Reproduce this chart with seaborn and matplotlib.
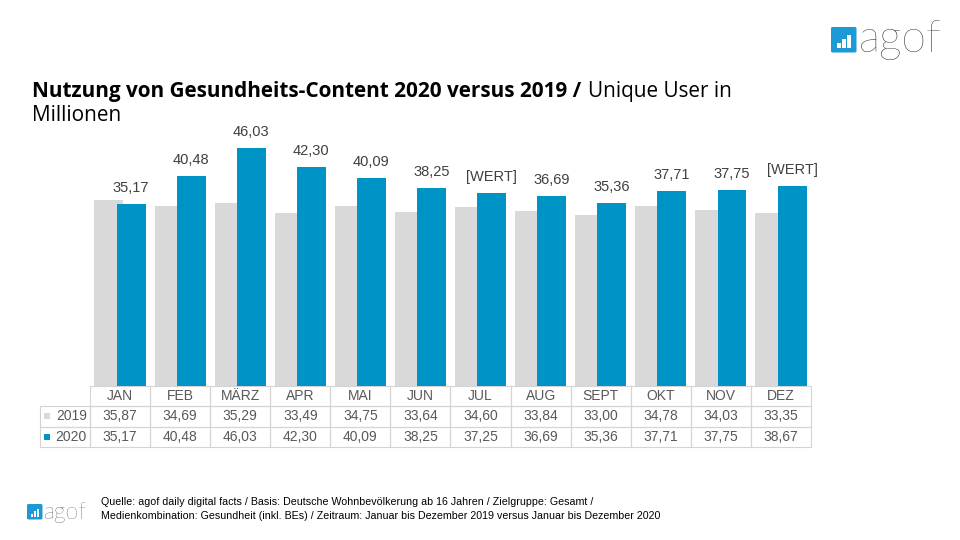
import matplotlib
matplotlib.use("Agg")
import matplotlib.pyplot as plt
from matplotlib.patches import Rectangle, FancyBboxPatch
from matplotlib.table import Table
from matplotlib import font_manager
import seaborn as sns
import pandas as pd

# ---------------- data ----------------
months = ["JAN", "FEB", "MÄRZ", "APR", "MAI", "JUN", "JUL", "AUG", "SEPT", "OKT", "NOV", "DEZ"]
values_2019 = [35.87, 34.69, 35.29, 33.49, 34.75, 33.64, 34.60, 33.84, 33.00, 34.78, 34.03, 33.35]
values_2020 = [35.17, 40.48, 46.03, 42.30, 40.09, 38.25, 37.25, 36.69, 35.36, 37.71, 37.75, 38.67]
years = ["2019", "2020"]
bar_labels_2020 = ["35,17", "40,48", "46,03", "42,30", "40,09", "38,25", "[WERT]",
                   "36,69", "35,36", "37,71", "37,75", "[WERT]"]

title_bold = "Nutzung von Gesundheits-Content 2020 versus 2019 /"
title_regular = "Unique User in"
title_line2 = "Millionen"
footer_lines = [
    "Quelle: agof daily digital facts / Basis: Deutsche Wohnbevölkerung ab 16 Jahren / Zielgruppe: Gesamt /",
    "Medienkombination: Gesundheit (inkl. BEs) / Zeitraum: Januar bis Dezember 2019 versus Januar bis Dezember 2020",
]

GRAY = "#d9d9d9"
BLUE = "#0093c6"
LOGO_BLUE = "#1b9ad6"
TEXT = "#404040"
TABLE_TEXT = "#595959"

def fmt(v):
    return f"{v:.2f}".replace(".", ",")

df = pd.DataFrame({
    "Monat": months * 2,
    "Jahr": [years[0]] * 12 + [years[1]] * 12,
    "Wert": values_2019 + values_2020,
})

sns.set_theme(style="white")
plt.rcParams["font.family"] = ["Liberation Sans", "DejaVu Sans"]

W, H = 960, 540
fig = plt.figure(figsize=(9.6, 5.4), dpi=100)

def fx(x):
    return x / W

def fy(y):
    return 1 - y / H

# axes: x 90..811 px, baseline at y=386 px, 5.18 px per unit
ax_left, ax_right = 90, 811
base_y = 386
ymax = 50
px_per_unit = 5.18
top_y = base_y - ymax * px_per_unit
ax = fig.add_axes([fx(ax_left), fy(base_y), (ax_right - ax_left) / W, (base_y - top_y) / H])

sns.barplot(data=df, x="Monat", y="Wert", hue="Jahr", hue_order=years, order=months,
            palette=[GRAY, BLUE], width=0.74, gap=-0.30, dodge=True, saturation=1,
            legend=False, errorbar=None, linewidth=0, ax=ax)
ax.set_xlim(-0.5, 11.5)
ax.set_ylim(0, ymax)
ax.set_axis_off()

# data labels on 2020 bars
ax.bar_label(ax.containers[1], labels=bar_labels_2020, padding=6.5,
             fontsize=10.5, color=TEXT, family=["Liberation Sans", "DejaVu Sans"])

# ---------------- data table ----------------
tbl_left_px, tbl_top_px, row_h_px = 40, 386, 20.3
ax_w_px = ax_right - ax_left
ax_h_px = base_y - top_y
first_w = (ax_left - tbl_left_px) / ax_w_px
col_w = 1.0 / 12
tbl_h = 3 * row_h_px / ax_h_px
tbl = Table(ax, bbox=[-first_w, -tbl_h, 1 + first_w, tbl_h])
rows = [
    [""] + months,
    [years[0]] + [fmt(v) for v in values_2019],
    [years[1]] + [fmt(v) for v in values_2020],
]
for r, row in enumerate(rows):
    for c, txt in enumerate(row):
        w = first_w if c == 0 else col_w
        cell = tbl.add_cell(r, c, width=w, height=tbl_h / 3, text=txt,
                            loc="right" if c == 0 else "center",
                            edgecolor="#d4d4d4", facecolor="none")
        cell.set_linewidth(0.8)
        cell.get_text().set_color(TABLE_TEXT)
        if c == 0:
            cell.PAD = 0.06
        if r == 0 and c == 0:
            cell.visible_edges = ""
tbl.auto_set_font_size(False)
tbl.set_fontsize(10)
ax.add_table(tbl)

# legend squares in the row labels
for i, col in enumerate([GRAY, BLUE]):
    yc = tbl_top_px + row_h_px * (1.5 + i)
    fig.add_artist(Rectangle((fx(44), fy(yc + 3)), 6 / W, 6 / H, transform=fig.transFigure,
                             facecolor=col, edgecolor="none"))

# ---------------- title ----------------
renderer = fig.canvas.get_renderer()
title_font = ["Open Sans", "DejaVu Sans"]
t1 = fig.text(fx(32), fy(97), title_bold, fontsize=13, fontweight="bold",
              family=title_font, color="black", va="baseline", ha="left")
bb = t1.get_window_extent(renderer)
scale = (578 - 32) / bb.width
t1.set_fontsize(13 * scale)
bb = t1.get_window_extent(renderer)
fig.text(bb.x1 / W + 7 / W, fy(97), title_regular, fontsize=13 * scale,
         family=title_font, color="black", va="baseline", ha="left")
fig.text(fx(32), fy(121), title_line2, fontsize=13 * scale,
         family=title_font, color="black", va="baseline", ha="left")

# ---------------- footer ----------------
avail = {f.name for f in font_manager.fontManager.ttflist}
foot_family = "Liberation Sans Narrow" if "Liberation Sans Narrow" in avail else "Liberation Sans"
f2 = fig.text(fx(101), fy(519), footer_lines[1], fontsize=7.5, family=foot_family,
              color="black", va="baseline", ha="left")
bb = f2.get_window_extent(renderer)
fs = 7.5 * (655 - 101) / bb.width
f2.set_fontsize(fs)
fig.text(fx(101), fy(505), footer_lines[0], fontsize=fs, family=foot_family,
         color="black", va="baseline", ha="left")

# ---------------- logos ----------------
logo_family = ["Lato", "DejaVu Sans"]

def draw_logo(x0, y0, size, text_x, text_right, baseline):
    sq = FancyBboxPatch((fx(x0), fy(y0 + size)), size / W, size / H,
                        boxstyle=f"round,pad=0,rounding_size={2 / W}",
                        transform=fig.transFigure, facecolor=LOGO_BLUE, edgecolor="none")
    fig.add_artist(sq)
    bw = size * 0.14
    for k, hfrac in enumerate([0.18, 0.34, 0.52]):
        bx = x0 + size * (0.24 + 0.2 * k)
        bh = size * hfrac
        fig.add_artist(Rectangle((fx(bx), fy(y0 + size * 0.82)), bw / W, bh / H,
                                 transform=fig.transFigure, facecolor="white", edgecolor="none"))
    t = fig.text(fx(text_x), fy(baseline), "agof", fontsize=20, family=logo_family,
                 fontweight="light", color="#1a1a1a", va="baseline", ha="left")
    b = t.get_window_extent(renderer)
    t.set_fontsize(20 * (text_right - text_x) / b.width)

draw_logo(831, 27, 25.5, 859, 942, 52)
draw_logo(27, 504, 15.5, 44, 87, 519)

fig.savefig("out.png", dpi=100)
